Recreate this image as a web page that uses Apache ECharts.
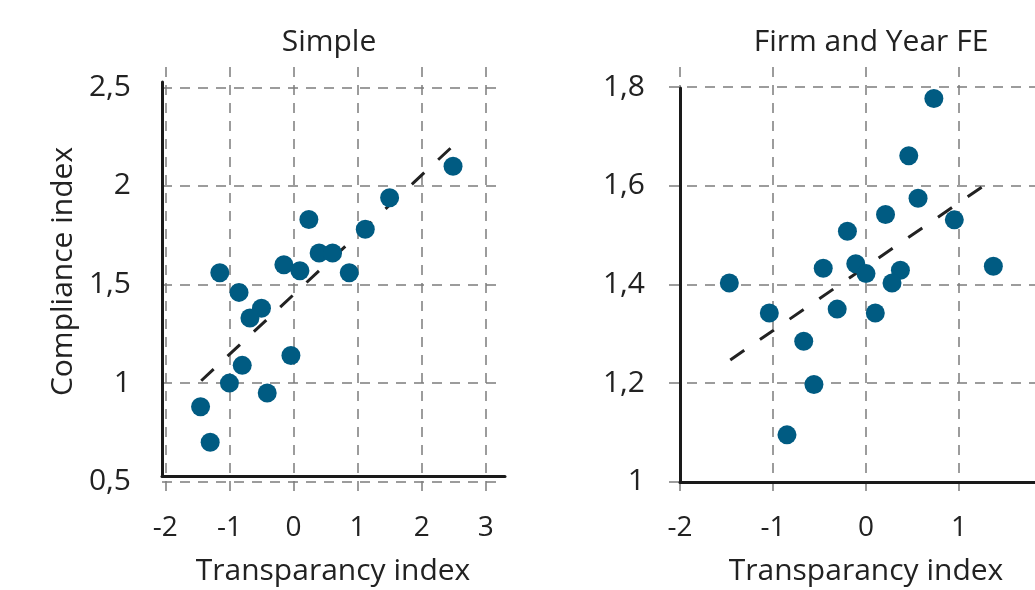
<!DOCTYPE html>
<html>
<head>
<meta charset="utf-8">
<script src="https://cdn.jsdelivr.net/npm/echarts@6/dist/echarts.min.js"></script>
<style>html,body{margin:0;padding:0;background:#fff;}#c{width:1035px;height:590px;}</style>
</head>
<body>
<div id="c"></div>
<script>
// ---- data ----
const panelTitles = ['Simple', 'Firm and Year FE'];
const xAxisName = 'Transparancy index';
const yAxisName = 'Compliance index';

const simpleX = [-1.15, -0.85, -0.50, -0.68, -0.15, 0.10, 0.24, 0.40, 0.61, 0.87, 1.12, 1.50, 2.49, -0.04, -0.80, -1.00, -0.41, -1.45, -1.30];
const simpleY = [1.56, 1.46, 1.38, 1.33, 1.60, 1.57, 1.83, 1.66, 1.66, 1.56, 1.78, 1.94, 2.10, 1.14, 1.09, 1.00, 0.95, 0.88, 0.70];
const simpleFitX = [-1.44, 2.45];
const simpleFitY = [1.012, 2.191];

const feX = [0.73, 0.46, 0.56, 0.21, 0.95, -0.20, -0.46, -0.11, 0.00, 0.37, 0.28, 1.37, -1.47, -1.04, -0.31, 0.10, -0.67, -0.56, -0.85];
const feY = [1.777, 1.661, 1.575, 1.542, 1.531, 1.508, 1.433, 1.442, 1.422, 1.429, 1.403, 1.437, 1.403, 1.342, 1.350, 1.342, 1.285, 1.197, 1.095];
const feFitX = [-1.46, 1.35];
const feFitY = [1.247, 1.611];

const leftXTicksStep = 1, leftYTicksStep = 0.5;
const rightXTicksStep = 1, rightYTicksStep = 0.2;

// ---- styling ----
const FONT = 'Open Sans';
const TXT = '#222222';
const PT = '#005b82';
const GRIDC = '#7c7c7c';
const tickFmt = v => String(+v.toFixed(2)).replace('.', ',');

function pairs(xs, ys) { return xs.map((x, i) => [x, ys[i]]); }

const gridLine = {show: true, showMinLine: false, showMaxLine: false,
  lineStyle: {color: GRIDC, width: 1.5, type: [10, 8]}};

function mainX(gi, min, max, step) {
  return {type: 'value', gridIndex: gi, min: min, max: max, minInterval: step, maxInterval: step,
    axisLine: {show: false}, axisTick: {show: false},
    axisLabel: {show: true, showMinLabel: false, showMaxLabel: false, margin: 18,
      fontFamily: FONT, fontSize: 28, color: TXT, formatter: tickFmt},
    splitLine: gridLine,
    name: xAxisName, nameLocation: 'middle', nameGap: 60,
    nameTextStyle: {fontFamily: FONT, fontSize: 30, color: TXT}};
}
function mainY(gi, min, max, step, margin, name) {
  const o = {type: 'value', gridIndex: gi, min: min, max: max, minInterval: step, maxInterval: step,
    axisLine: {show: false}, axisTick: {show: false},
    axisLabel: {show: true, showMinLabel: false, showMaxLabel: false, margin: margin,
      fontFamily: FONT, fontSize: 30, color: TXT, formatter: tickFmt},
    splitLine: gridLine};
  if (name) {
    o.name = name; o.nameLocation = 'middle'; o.nameGap = 84;
    o.nameTextStyle = {fontFamily: FONT, fontSize: 30, color: TXT, padding: [0, 0, 0, 20]};
  }
  return o;
}
function frameAxis(gi, offset) {
  return {type: 'value', gridIndex: gi, min: 0, max: 1, offset: offset,
    axisLine: {show: true, lineStyle: {color: '#1a1a1a', width: 3}},
    axisTick: {show: false}, axisLabel: {show: false}, splitLine: {show: false}};
}

const chart = echarts.init(document.getElementById('c'), null, {renderer: 'canvas'});
chart.setOption({
  backgroundColor: '#ffffff',
  animation: false,
  title: [
    {text: panelTitles[0], left: 324, top: 22, textAlign: 'center',
      textStyle: {fontFamily: FONT, fontSize: 30, fontWeight: 'normal', color: TXT}},
    {text: panelTitles[1], left: 866, top: 22, textAlign: 'center',
      textStyle: {fontFamily: FONT, fontSize: 30, fontWeight: 'normal', color: TXT}}
  ],
  grid: [
    {left: 162, right: 531, top: 67, bottom: 94, outerBoundsMode: 'none', containLabel: false},
    {left: 669, right: -28, top: 67, bottom: 94, outerBoundsMode: 'none', containLabel: false},
    {left: 162, right: 530, top: 82, bottom: 114, outerBoundsMode: 'none', containLabel: false},
    {left: 680, right: -28, top: 88, bottom: 108, outerBoundsMode: 'none', containLabel: false}
  ],
  xAxis: [
    mainX(0, -2.052, 3.285, leftXTicksStep),
    mainX(1, -2.119, 2.119, rightXTicksStep),
    frameAxis(2, 23),
    frameAxis(3, 17)
  ],
  yAxis: [
    mainY(0, 0.4275, 2.603, leftYTicksStep, 31, yAxisName),
    mainY(1, 0.971, 1.841, rightYTicksStep, 24, null),
    frameAxis(2, 16),
    frameAxis(3, 18)
  ],
  series: [
    {type: 'line', xAxisIndex: 0, yAxisIndex: 0, data: pairs(simpleFitX, simpleFitY), symbol: 'none',
      lineStyle: {color: '#222', width: 3, type: [17, 19]}, z: 2, silent: true},
    {type: 'scatter', xAxisIndex: 0, yAxisIndex: 0, data: pairs(simpleX, simpleY), symbolSize: 19,
      itemStyle: {color: PT, opacity: 1}, z: 3},
    {type: 'line', xAxisIndex: 1, yAxisIndex: 1, data: pairs(feFitX, feFitY), symbol: 'none',
      lineStyle: {color: '#222', width: 3, type: [17, 19]}, z: 2, silent: true},
    {type: 'scatter', xAxisIndex: 1, yAxisIndex: 1, data: pairs(feX, feY), symbolSize: 19,
      itemStyle: {color: PT, opacity: 1}, z: 3}
  ]
});
</script>
</body>
</html>
